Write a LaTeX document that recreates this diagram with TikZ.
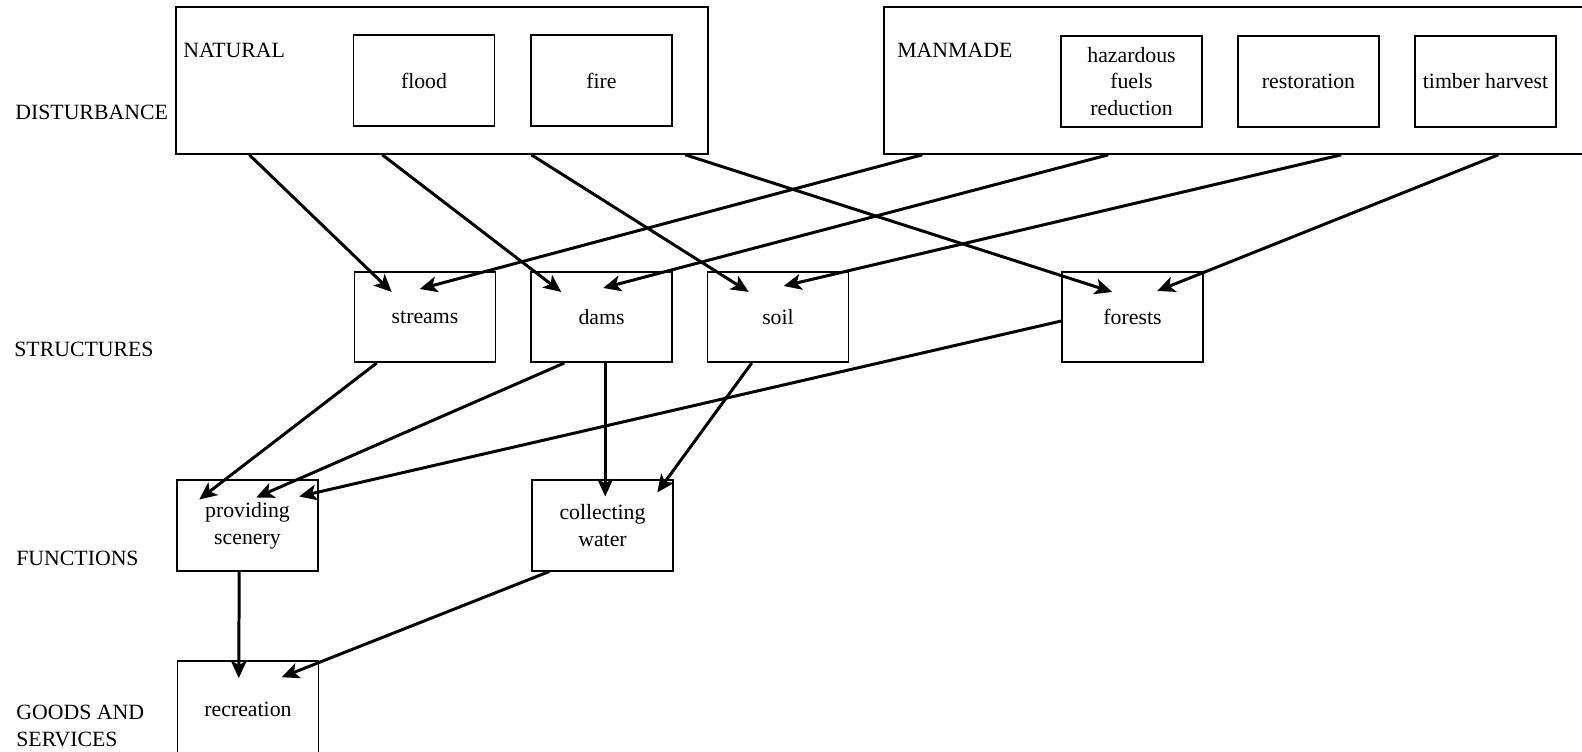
\documentclass[tikz,border=0pt]{standalone}
\usepackage{fontspec}
\setmainfont{Liberation Serif}
\usetikzlibrary{arrows.meta, calc}

\begin{document}
\begin{tikzpicture}[
  x=0.02cm, y=-0.02cm,
  >={Stealth[length=10pt, width=9pt, inset=2.5pt]},
  every node/.style={font=\fontsize{12.4}{15.3}\selectfont},
  box/.style={draw, line width=0.9pt, minimum width=2.82cm, minimum height=1.81cm, inner sep=0pt, align=center},
  grp/.style={draw, line width=0.9pt, inner sep=0pt, minimum height=2.94cm},
  lvl/.style={anchor=base west, inner sep=0pt, align=left},
  link/.style={->, line width=1.7pt}
]
\useasboundingbox (0,0) rectangle (1582,751);

% Level names on the left
\node[lvl] (ldist) at (15,119) {DISTURBANCE};
\node[lvl] (lstruct) at (14,356) {STRUCTURES};
\node[lvl] (lfunc) at (16,565) {FUNCTIONS};
\node[lvl] (lgoods) at (16,746) {GOODS AND\\SERVICES};

% Disturbance: natural and manmade groups
\node[grp, minimum width=10.64cm] (natural) at (442,80.5) {};
\node[lvl] (natlbl) at (183,57) {NATURAL};
\node[box] (flood) at (424,80.5) {flood};
\node[box] (fire) at (601.5,80.5) {fire};

\node[grp, minimum width=14.32cm] (manmade) at (1242,80.5) {};
\node[lvl] (manlbl) at (897,57) {MANMADE};
\node[box] (fuels) at (1131.5,81.5) {hazardous\\fuels\\reduction};
\node[box] (restor) at (1308.5,81.5) {restoration};
\node[box] (timber) at (1485.5,81.5) {timber harvest};

% Structures
\node[box] (streams) at (425,317) {streams};
\node[box] (dams) at (601.5,317) {dams};
\node[box] (soil) at (778,317) {soil};
\node[box] (forests) at (1132.5,317) {forests};

% Functions
\node[box] (scenery) at (247.5,525.5) {providing\\scenery};
\node[box] (water) at (602.5,525.5) {collecting\\water};

% Goods and services (bottom edge runs off the page)
\node[box, minimum height=1.92cm] (recr) at (248,709) {recreation};

% Disturbance -> structures
\draw[link] ($(natural.south west)+(74,0)$) -- ($(streams.north west)+(38,21)$);
\draw[link] ($(natural.south west)+(207,0)$) -- ($(dams.north west)+(31,21)$);
\draw[link] ($(natural.south west)+(356,0)$) -- ($(soil.north west)+(42,21)$);
\draw[link] ($(natural.south west)+(510,0)$) -- ($(forests.north west)+(51,21)$);
\draw[link] ($(manmade.south west)+(39,0)$) -- ($(streams.north west)+(66,18)$);
\draw[link] ($(manmade.south west)+(225,0)$) -- ($(dams.north west)+(73,17)$);
\draw[link] ($(manmade.south west)+(458,0)$) -- ($(soil.north west)+(77,15)$);
\draw[link] ($(manmade.south west)+(615,0)$) -- ($(forests.north west)+(96,20)$);

% Structures -> functions
\draw[link] ($(streams.south west)+(23,0)$) -- ($(scenery.north west)+(23,20)$);
\draw[link] ($(dams.south west)+(34,0)$) -- ($(scenery.north west)+(80,18)$);
\draw[link] ($(forests.west)+(0,4)$) -- ($(scenery.north west)+(123,17)$);
\draw[link] ($(dams.south west)+(75,0)$) -- ($(water.north west)+(74,17)$);
\draw[link] ($(soil.south west)+(45,0)$) -- ($(water.north west)+(126,13)$);

% Functions -> goods and services
\draw[link] ($(scenery.south west)+(63,0)$) -- ($(recr.north west)+(62,18)$);
\draw[link] ($(water.south west)+(18,0)$) -- ($(recr.north west)+(105,17)$);

\end{tikzpicture}
\end{document}
